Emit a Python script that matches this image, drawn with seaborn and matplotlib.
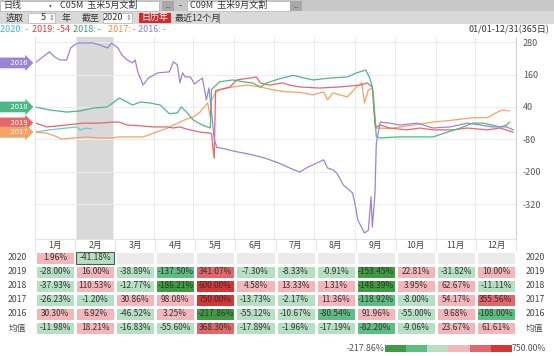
import numpy as np
import pandas as pd
import matplotlib
matplotlib.use("Agg")
import matplotlib.pyplot as plt
import matplotlib.transforms as mtransforms
from matplotlib.colors import ListedColormap, BoundaryNorm
from matplotlib.patches import Rectangle
import seaborn as sns

sns.set_theme(style="white")
plt.rcParams['font.family'] = ['Noto Sans CJK SC', 'DejaVu Sans']
plt.rcParams['axes.unicode_minus'] = False

# ---- price spread lines (day of year, value) ----
days_2016 = [0, 11, 15, 19, 24, 27, 30, 33, 44, 49, 55, 58, 63, 66, 70, 74, 76, 78, 82, 86,
             93, 102, 105, 108, 110, 112, 114, 118, 121, 127, 129, 130, 132, 134, 136, 138, 144, 152, 163, 175,
             186, 195, 201, 207, 219, 222, 226, 229, 234, 241, 243, 245, 250, 253, 255, 256, 258, 259, 262, 269,
             277, 290, 302, 315, 328, 338, 347, 358, 363]
vals_2016 = [203, 244, 225, 214, 214, 258, 270, 277, 277, 270, 258, 277, 258, 232, 214, 203, 214, 170, 121, 147,
             166, 170, 207, 196, 129, 166, 151, 151, 125, 147, 96, 66, 110, 20, -80, -110, -115, -125, -135, -150,
             -170, -190, -201, -183, -156, -186, -193, -205, -249, -279, -323, -379, -427, -416, -293, -405, -279, -94, -16, -20,
             -27, -20, -38, -34, -20, -27, -34, -34, -45]

days_2017 = [0, 9, 17, 20, 29, 39, 49, 57, 64, 74, 82, 90, 100, 105, 110, 115, 120, 125, 131, 133,
             134, 137, 140, 150, 161, 171, 181, 191, 201, 211, 219, 222, 226, 237, 244, 248, 250, 253, 256, 257,
             258, 259, 269, 277, 290, 302, 315, 332, 343, 351, 355, 360]
vals_2017 = [-53, -57, -71, -79, -75, -71, -75, -75, -71, -71, -71, -57, -40, -27, -16, -5, 3, 20, 55, 3,
             66, 92, 103, 114, 121, 114, 103, 96, 94, 85, 96, 66, 92, 77, 114, 129, 55, 103, 110, 77,
             -34, -38, -40, -34, -25, -16, -10, 0, 0, 21, 29, 25]

days_2018 = [0, 4, 11, 24, 34, 44, 55, 59, 64, 70, 74, 80, 87, 95, 102, 108, 111, 115, 120, 127,
             133, 134, 140, 150, 158, 165, 171, 176, 186, 196, 201, 211, 224, 237, 244, 251, 254, 256, 258, 259,
             262, 275, 287, 302, 313, 323, 332, 340, 353, 358, 360]
vals_2018 = [40, 36, 29, 21, 25, 36, 40, 55, 73, 58, 47, 58, 55, 47, 15, 18, 40, 21, -8, -27,
             -38, 105, 133, 140, 133, 129, 114, 129, 145, 157, 151, 140, 147, 151, 166, 177, 147, 114, 3, -71,
             -75, -71, -71, -71, -53, -38, -20, -20, -34, -27, -16]

days_2019 = [0, 9, 24, 36, 49, 59, 64, 70, 80, 90, 100, 105, 110, 115, 125, 133, 134, 135, 136, 137,
             139, 148, 153, 163, 168, 171, 178, 188, 193, 201, 216, 231, 247, 252, 256, 257, 258, 259, 262, 269,
             282, 292, 302, 317, 328, 343, 353, 363]
vals_2019 = [-19, -34, -27, -20, -20, -16, -16, -27, -30, -34, -34, -38, -34, -42, -53, -57, -60, -110, -150, 100,
             103, 114, 140, 147, 151, 129, 121, 129, 121, 114, 110, 114, 121, 129, 114, 40, -20, -34, -27, -38,
             -45, -38, -45, -45, -38, -45, -38, -54]

days_2020 = [0, 11, 24, 32, 34, 39, 43]
vals_2020 = [-53, -45, -38, -34, -45, -38, -42]

years = ['2020', '2019', '2018', '2017', '2016']
line_colors = {'2016': '#9a84d4', '2017': '#f5a263', '2018': '#4db887', '2019': '#e5676b', '2020': '#6ec9d6'}
text_colors = {'2020': '#3fb8d8', '2019': '#e03c3c', '2018': '#32a86a', '2017': '#f08a40', '2016': '#9a78d8'}

# ---- monthly change table ----
months = ['1月', '2月', '3月', '4月', '5月', '6月', '7月', '8月', '9月', '10月', '11月', '12月']
row_names = ['2020', '2019', '2018', '2017', '2016', '均值']
chg_2020 = [1.96, -41.18] + [np.nan] * 10
chg_2019 = [-28.00, 16.00, -38.89, -137.50, 341.07, -7.30, -8.33, -0.91, -153.45, 22.81, -31.82, 10.00]
chg_2018 = [-37.93, 110.53, -12.77, -186.21, 600.00, 4.58, 13.33, 1.31, -148.39, 3.95, 62.67, -11.11]
chg_2017 = [-26.23, -1.20, 30.86, 98.08, 750.00, -13.73, -2.17, 11.36, -118.92, -8.00, 54.17, 355.56]
chg_2016 = [30.30, 6.92, -46.52, 3.25, -217.86, -55.12, -10.67, -80.54, 91.96, -55.00, 9.68, -108.00]
chg_mean = [-11.98, 18.21, -16.83, -55.60, 368.30, -17.89, -1.96, -17.19, -82.20, -9.06, 23.67, 61.61]

bin_colors = ['#3d9c3d', '#5cbf80', '#b5e0c2', '#f5b6ba', '#e36669', '#d93434']

# long frame for the lines
frames = []
for y, d, v in [('2016', days_2016, vals_2016), ('2017', days_2017, vals_2017),
                ('2018', days_2018, vals_2018), ('2019', days_2019, vals_2019),
                ('2020', days_2020, vals_2020)]:
    frames.append(pd.DataFrame({'day': d, 'value': v, 'year': y}))
lines = pd.concat(frames, ignore_index=True)

table = pd.DataFrame([chg_2020, chg_2019, chg_2018, chg_2017, chg_2016, chg_mean],
                     index=row_names, columns=months)
annot = table.map(lambda x: '' if pd.isna(x) else f'{x:.2f}%').values
vmin = np.nanmin(table.values)
vmax = np.nanmax(table.values)
bounds = [vmin, vmin * 2 / 3, vmin / 3, 0, vmax / 3, vmax * 2 / 3, vmax]
cmap6 = ListedColormap(bin_colors)
norm = BoundaryNorm(bounds, cmap6.N)

W, H = 554, 356
fig = plt.figure(figsize=(W / 100, H / 100), dpi=100)


def fx(px):
    return px / W


def fy(py):
    return 1 - py / H


# ---- toolbar rows ----
fig.add_artist(Rectangle((0, fy(11)), 1, fy(0) - fy(11), transform=fig.transFigure, fc='#c8c8c8', ec='none'))
fig.add_artist(Rectangle((0, fy(24)), 1, fy(11) - fy(24), transform=fig.transFigure, fc='#d9d9d9', ec='none'))
fig.add_artist(Rectangle((0, fy(10.5)), fx(159), fy(0.5) - fy(10.5), transform=fig.transFigure, fc='white', ec='#b0b0b0', lw=0.5))
fig.add_artist(Rectangle((fx(162), fy(10.5)), fx(12), fy(0.5) - fy(10.5), transform=fig.transFigure, fc='#a8a8a8', ec='none'))
fig.add_artist(Rectangle((fx(187), fy(10.5)), fx(103), fy(0.5) - fy(10.5), transform=fig.transFigure, fc='white', ec='#b0b0b0', lw=0.5))
fig.add_artist(Rectangle((fx(290), fy(10.5)), fx(12), fy(0.5) - fy(10.5), transform=fig.transFigure, fc='#a8a8a8', ec='none'))
top_txt = dict(fontsize=6.5, va='center', color='#333333')
fig.text(fx(3), fy(5.5), '日线', **top_txt)
fig.text(fx(49), fy(5.5), '▾', fontsize=4, va='center', color='#666666')
fig.text(fx(60), fy(5.5), 'C05M  玉米5月文割', **top_txt)
fig.text(fx(165), fy(6.5), '...', fontsize=5, va='center', color='#444444')
fig.text(fx(179), fy(5.5), '-', **top_txt)
fig.text(fx(190), fy(5.5), 'C09M  玉米9月文割', **top_txt)
fig.text(fx(293), fy(6.5), '...', fontsize=5, va='center', color='#444444')

fig.add_artist(Rectangle((fx(28), fy(22.5)), fx(27), fy(13) - fy(22.5), transform=fig.transFigure, fc='white', ec='#b0b0b0', lw=0.5))
fig.add_artist(Rectangle((fx(103), fy(22.5)), fx(29), fy(13) - fy(22.5), transform=fig.transFigure, fc='white', ec='#b0b0b0', lw=0.5))
fig.add_artist(Rectangle((fx(139), fy(23)), fx(32), fy(12.5) - fy(23), transform=fig.transFigure, fc='#d42a2a', ec='none'))
fig.text(fx(6), fy(18), '选取', **top_txt)
fig.text(fx(46), fy(18), '5', ha='right', **top_txt)
fig.text(fx(49), fy(18), '⇕', fontsize=5, va='center', color='#777777')
fig.text(fx(62), fy(18), '年', **top_txt)
fig.text(fx(82), fy(18), '截至', **top_txt)
fig.text(fx(123), fy(18), '2020', ha='right', **top_txt)
fig.text(fx(126), fy(18), '⇕', fontsize=5, va='center', color='#777777')
fig.text(fx(155), fy(18), '日历年', ha='center', fontsize=6.5, va='center', color='white')
fig.text(fx(175), fy(18), '最近12个月', **top_txt)
fig.add_artist(plt.Line2D([fx(219), fx(219)], [fy(13), fy(23)], transform=fig.transFigure, color='#888888', lw=0.6))

# legend row
leg_x = {'2020': 0, '2019': 32, '2018': 73, '2017': 108, '2016': 138}
for y in years:
    last = {'2019': vals_2019[-1]}.get(y, '-')
    fig.text(fx(leg_x[y]), fy(30), f'{y}: {last}', fontsize=6.5, va='center', color=text_colors[y])
fig.text(fx(549), fy(30), '01/01-12/31(365日)', ha='right', fontsize=6.5, va='center', color='#333333')

# ---- line chart ----
ax = fig.add_axes([fx(35), fy(239), fx(516) - fx(35), fy(37) - fy(239)])
ax.axvspan(31, 59, color='#d9d9d9', zorder=0, lw=0)
sns.lineplot(data=lines, x='day', y='value', hue='year', hue_order=['2020', '2017', '2019', '2018', '2016'],
             palette=line_colors, estimator=None, linewidth=0.9, legend=False, ax=ax)
ax.set_xlim(0, 365)
ax.set_ylim(-449, 299)
ax.set_xticks([0, 31, 59, 90, 120, 151, 181, 212, 243, 273, 304, 334, 365])
ax.set_xticklabels([])
ax.set_yticks([280, 160, 40, -80, -200, -320])
ax.yaxis.tick_right()
ax.tick_params(axis='y', length=0, labelsize=6.5, labelcolor='#555555', pad=5)
ax.tick_params(axis='x', length=0)
ax.grid(True, color='#ebebeb', lw=0.7)
ax.set_axisbelow(True)
ax.set_xlabel('')
ax.set_ylabel('')
for s in ['top']:
    ax.spines[s].set_visible(False)
ax.spines['left'].set_color('#e3e3e3')
ax.spines['bottom'].set_color('#e3e3e3')
ax.spines['right'].set_color('#cfcfcf')
for s in ['left', 'bottom', 'right']:
    ax.spines[s].set_linewidth(0.7)

# year tags on the left
tag_trans = mtransforms.blended_transform_factory(fig.transFigure, ax.transData)
first_vals = {'2016': vals_2016[0], '2018': vals_2018[0], '2020': vals_2020[0],
              '2019': vals_2019[0], '2017': vals_2017[0]}
for y in ['2016', '2018', '2020', '2019', '2017']:
    ax.text(0.0, first_vals[y], f'      {y}', transform=tag_trans, ha='left', va='center',
            fontsize=5.5, color='white', clip_on=False,
            bbox=dict(boxstyle='rarrow,pad=0.18', fc=line_colors[y], ec='none'))

# ---- table heatmap ----
axt = fig.add_axes([fx(35), fy(335), fx(516) - fx(35), fy(251) - fy(335)])
axt.set_facecolor('#ebebeb')
sns.heatmap(table, ax=axt, cmap=cmap6, norm=norm, annot=annot, fmt='', cbar=False,
            linewidths=1, linecolor='white', xticklabels=False, yticklabels=False,
            annot_kws={'fontsize': 6, 'color': '#333333'})
axt.set_xlabel('')
axt.set_ylabel('')
for j, m in enumerate(months):
    axt.text(j + 0.5, -0.42, m, ha='center', va='center', fontsize=6.3, color='#444444', clip_on=False)
axt.vlines(range(len(months) + 1), -0.85, 0, color='#e3e3e3', lw=0.7, clip_on=False)
for i, r in enumerate(row_names):
    axt.text(-0.44, i + 0.5, r, ha='center', va='center', fontsize=6.3, color='#444444', clip_on=False)
    axt.text(12.47, i + 0.5, r, ha='center', va='center', fontsize=6.3, color='#444444', clip_on=False)
axt.add_patch(Rectangle((1.03, 0.05), 0.94, 0.9, fill=False, ec='#555555', lw=0.8))

# ---- colour key ----
axc = fig.add_axes([fx(385), fy(352), fx(127), fy(345) - fy(352)])
axc.imshow(np.arange(len(bin_colors)).reshape(1, -1), cmap=cmap6, aspect='auto')
axc.axis('off')
fig.text(fx(384), fy(348.5), f'{vmin:.2f}%', ha='right', va='center', fontsize=6.3, color='#555555')
fig.text(fx(512), fy(348.5), f'{vmax:.2f}%', ha='left', va='center', fontsize=6.3, color='#555555')

fig.savefig('out.png', dpi=100)
